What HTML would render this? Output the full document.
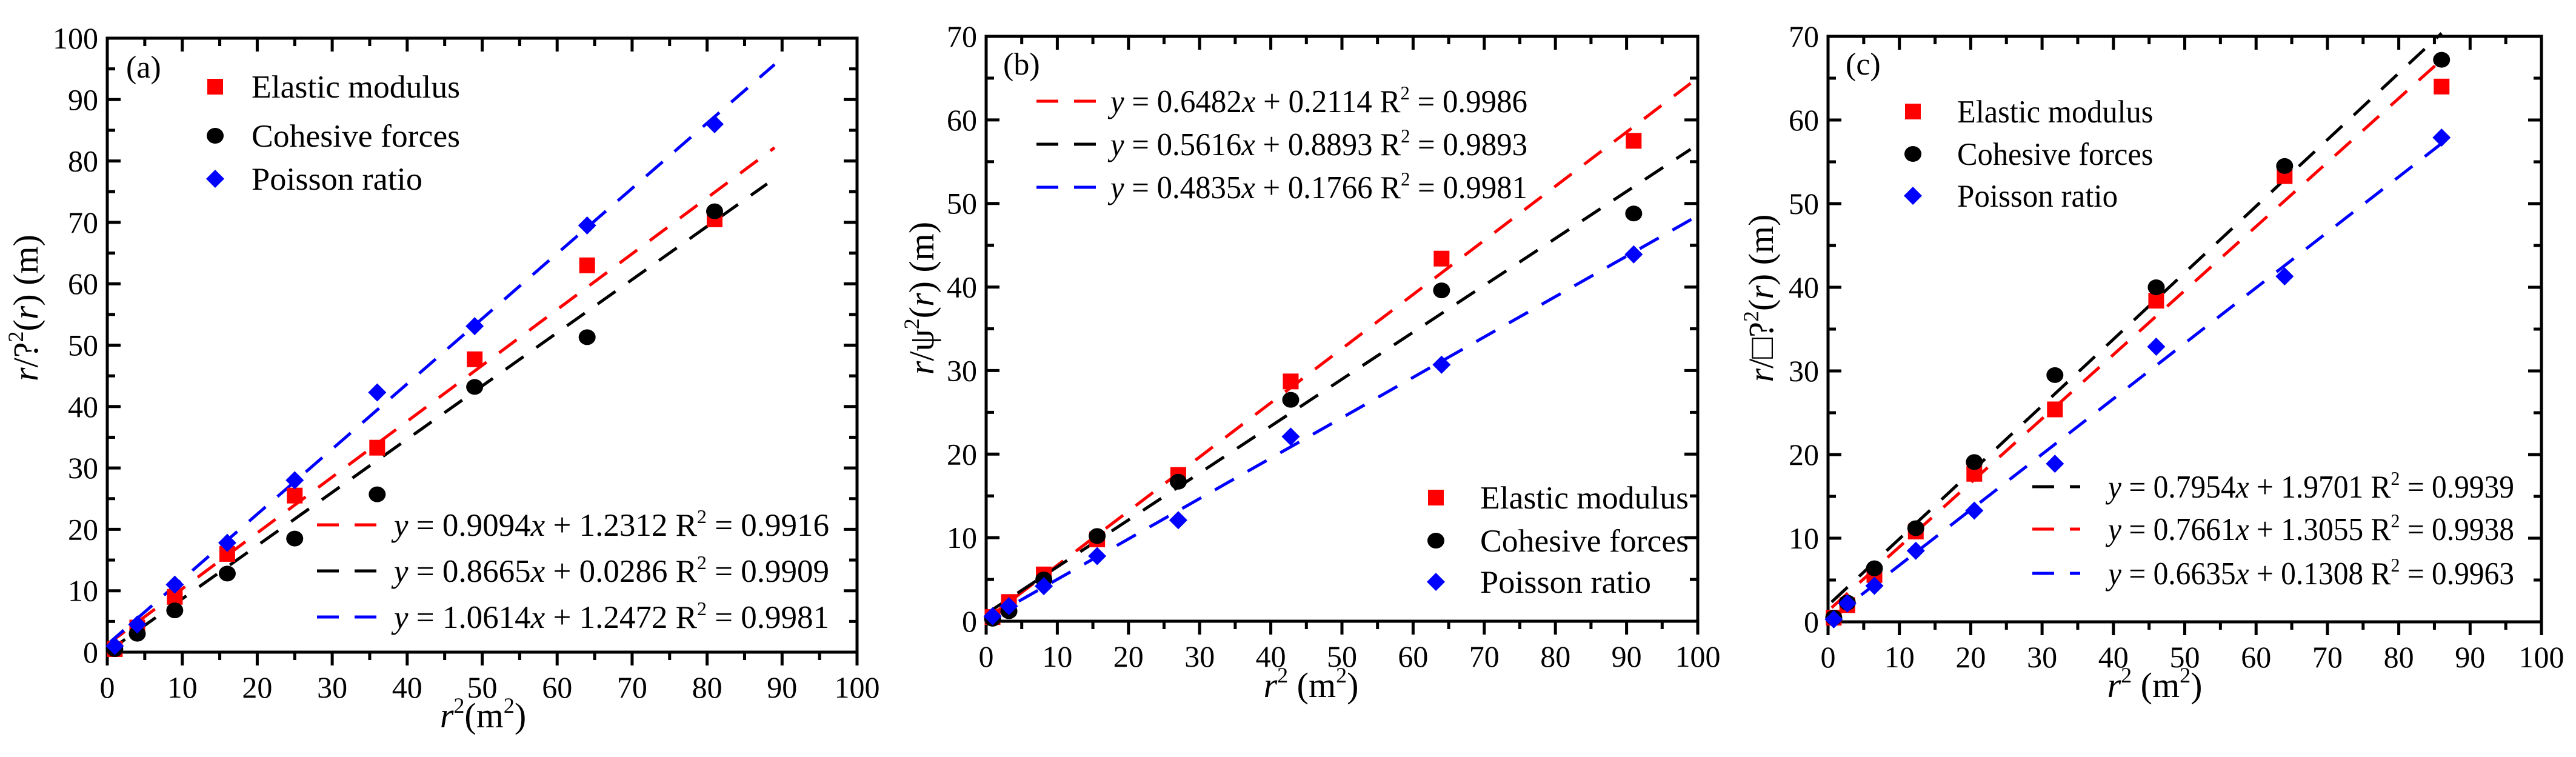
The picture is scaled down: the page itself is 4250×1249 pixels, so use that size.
<!DOCTYPE html>
<html><head><meta charset="utf-8"><style>
html,body{margin:0;padding:0;background:#fff;}
svg, svg text, svg tspan{font-family:"Liberation Serif","Times New Roman",Times,"DejaVu Serif",serif;}
</style></head><body>
<svg id="c" width="4250" height="1244" viewBox="0 0 4250 1244" xmlns="http://www.w3.org/2000/svg"></svg>
<script>
// Panel (a)
const aX = [1,4,9,16,25,36,49,64,81];
const aElastic = [0.5,4,9,16,25.5,33.3,47.7,63,70.5];
const aCohesive = [0.5,3,6.8,12.8,18.5,25.7,43.2,51.3,71.8];
const aPoisson = [1,4.5,11,17.8,28,42.3,53.1,69.5,86];
const aSlopes = [0.9094,0.8665,1.0614];
const aIntercepts = [1.2312,0.0286,1.2472];
const aFitEnd = [89,88,89];
// Panel (b)
const bX = [0.9,3.2,8.1,15.6,27,42.8,64,91];
const bElastic = [0.5,2.3,5.6,9.8,17.5,28.7,43.4,57.5];
const bCohesive = [0.3,1.2,5,10.2,16.7,26.5,39.6,48.8];
const bPoisson = [0.6,1.8,4.2,7.8,12.1,22.1,30.7,43.9];
const bSlopes = [0.6482,0.5616,0.4835];
const bIntercepts = [0.2114,0.8893,0.1766];
const bFitEnd = [99,99,100];
// Panel (c)
const cX = [0.8,2.7,6.5,12.3,20.5,31.8,46,64,86];
const cElastic = [0.5,2,5.6,10.8,17.7,25.4,38.4,53.3,64];
const cCohesive = [0.5,2.3,6.4,11.2,19.1,29.5,40,54.5,67.2];
const cPoisson = [0.3,2.2,4.3,8.5,13.3,18.9,32.9,41.3,57.9];
const cSlopes = [0.7954,0.7661,0.6635];
const cIntercepts = [1.9701,1.3055,0.1308];
const cFitEnd = [86,86,86];
const xTicks = [0,10,20,30,40,50,60,70,80,90,100];
const aYTicks = [0,10,20,30,40,50,60,70,80,90,100];
const bcYTicks = [0,10,20,30,40,50,60,70];

const NS="http://www.w3.org/2000/svg";
const svg=document.getElementById('c');
const FF="'Liberation Serif','Times New Roman',Times,serif";
function mk(tag,attrs,parent){const e=document.createElementNS(NS,tag);for(const k in attrs)e.setAttribute(k,attrs[k]);if(tag==='text')e.style.fontFamily=FF;(parent||svg).appendChild(e);return e;}
const COLORS={red:"#ff0000",black:"#000000",blue:"#0000ff"};

function marker(g,type,cx,cy,col){
  let e;
  if(type==='sq'){e=mk('rect',{x:cx-13,y:cy-13,width:26,height:26,fill:col},g);}
  else if(type==='ci'){e=mk('ellipse',{cx:cx,cy:cy,rx:14,ry:13,fill:col},g);}
  else {e=mk('polygon',{points:`${cx},${cy-15} ${cx+15},${cy} ${cx},${cy+15} ${cx-15},${cy}`,fill:col},g);}
  return e;
}
function eqText(g,x,y,s,i,r2,size,w){
  const t=mk('text',{x:x,y:y,'font-size':size,fill:'#000',textLength:w,lengthAdjust:'spacingAndGlyphs'},g);
  
  
  const sp=(txt,attrs)=>{const e=document.createElementNS(NS,'tspan');for(const k in (attrs||{}))e.setAttribute(k,attrs[k]);e.textContent=txt;t.appendChild(e);return e;};
  sp('y',{'font-style':'italic'});
  sp(' = '+s.toFixed(4));
  sp('x',{'font-style':'italic'});
  sp(' + '+i.toFixed(4)+'  R');
  sp('2',{'font-size':size*0.6,dy:-size*0.4});
  sp(' = '+r2,{dy:size*0.4});
}

function panel(cfg){
  const g=mk('g',{});
  
  
  const {L,R,T,B,ymax}=cfg;
  const sx=v=>L+(v/100)*(R-L);
  const sy=v=>B-(v/ymax)*(B-T);
  const fr=mk('rect',{x:L,y:T,width:R-L,height:B-T,fill:'none',stroke:'#000','stroke-width':5},g);
  
  
  xTicks.forEach((v,k)=>{
    const x=sx(v);
    mk('line',{x1:x,y1:B,x2:x,y2:B+22,stroke:'#000','stroke-width':5},g);
    mk('line',{x1:x,y1:T,x2:x,y2:T+22,stroke:'#000','stroke-width':5},g);
    if(k<xTicks.length-1){const xm=sx(v+5);
      mk('line',{x1:xm,y1:B,x2:xm,y2:B+13,stroke:'#000','stroke-width':5},g);
      mk('line',{x1:xm,y1:T,x2:xm,y2:T+13,stroke:'#000','stroke-width':5},g);}
    const t=mk('text',{x:x,y:B+75,'font-size':50,'text-anchor':'middle'},g);
    
    
    t.textContent=v;
  });
  cfg.yTicks.forEach((v,k)=>{
    const y=sy(v);
    mk('line',{x1:L,y1:y,x2:L+22,y2:y,stroke:'#000','stroke-width':5},g);
    mk('line',{x1:R,y1:y,x2:R-22,y2:y,stroke:'#000','stroke-width':5},g);
    if(k<cfg.yTicks.length-1){const ym=sy(v+5);
      mk('line',{x1:L,y1:ym,x2:L+13,y2:ym,stroke:'#000','stroke-width':5},g);
      mk('line',{x1:R,y1:ym,x2:R-13,y2:ym,stroke:'#000','stroke-width':5},g);}
    const t=mk('text',{x:L-15,y:y+17,'font-size':50,'text-anchor':'end'},g);
    
    
    t.textContent=v;
  });
  cfg.fits.forEach(f=>{
    const x0=cfg.fitStart;
    const l=mk('line',{x1:sx(x0),y1:sy(f.s*x0+f.i),x2:sx(f.end),y2:sy(f.s*f.end+f.i),stroke:COLORS[f.c],'stroke-width':5,'stroke-dasharray':'36 26'},g);
    
    
  });
  cfg.series.forEach(s=>{
    s.y.forEach((v,k)=>{
      const m=marker(g,s.type,sx(cfg.x[k]),sy(v),COLORS[s.c]);
      
      
    });
  });
  const lab=mk('text',{x:cfg.lab[0],y:cfg.lab[1],'font-size':52},g);
  
  
  lab.textContent=cfg.labText;
  const names=['Elastic modulus','Cohesive forces','Poisson ratio'];
  const widths=[344,344,282];
  const types=['sq','ci','di'];const cols=['red','black','blue'];
  cfg.legRows.forEach((y,k)=>{
    const m=marker(g,types[k],cfg.legX,y,COLORS[cols[k]]);
    
    
    const t=mk('text',{x:cfg.legTX,y:y+18,'font-size':53,textLength:widths[k]*cfg.legScale,lengthAdjust:'spacingAndGlyphs'},g);
    
    
    t.textContent=names[k];
  });
  cfg.eqRows.forEach((y,k)=>{
    const f=cfg.eqFits[k];
    const l=mk('line',{x1:cfg.eqL[0],y1:y,x2:cfg.eqL[1],y2:y,stroke:COLORS[f.c],'stroke-width':5,'stroke-dasharray':'36 26'},g);
    
    
    eqText(g,cfg.eqTX,y+18,f.s,f.i,f.r2,53,cfg.eqW);
  });
  const xt=mk('text',{x:cfg.xt[0],y:cfg.xt[1],'font-size':58,'text-anchor':'middle'},g);
  
  
  xt.innerHTML='<tspan font-style="italic">r</tspan><tspan font-size="36" dy="-24">2</tspan><tspan dy="24">'+cfg.xgap+'(m</tspan><tspan font-size="36" dy="-24">2</tspan><tspan dy="24">)</tspan>';
  const yt=mk('text',{x:0,y:0,'font-size':58,'text-anchor':'middle',transform:`translate(${cfg.yt[0]},${cfg.yt[1]}) rotate(-90)`},g);
  
  
  yt.innerHTML='<tspan font-style="italic">r</tspan>/'+cfg.ysym+'<tspan font-size="36" dy="-24">2</tspan><tspan dy="24">(</tspan><tspan font-style="italic">r</tspan>) (m)';
}

panel({name:'panel-a',L:177,R:1414,T:63,B:1076,ymax:100,yTicks:aYTicks,x:aX,fitStart:0,
  fits:[{s:aSlopes[0],i:aIntercepts[0],end:aFitEnd[0],c:'red'},{s:aSlopes[1],i:aIntercepts[1],end:aFitEnd[1],c:'black'},{s:aSlopes[2],i:aIntercepts[2],end:aFitEnd[2],c:'blue'}],
  series:[{key:'elastic',y:aElastic,type:'sq',c:'red'},{key:'cohesive',y:aCohesive,type:'ci',c:'black'},{key:'poisson',y:aPoisson,type:'di',c:'blue'}],
  lab:[208,128],labText:'(a)',legX:355,legTX:415,legRows:[143,224,295],legScale:1,
  eqRows:[866,942,1018],eqL:[523,640],eqTX:650,eqW:718,
  eqFits:[{s:aSlopes[0],i:aIntercepts[0],c:'red',r2:'0.9916'},{s:aSlopes[1],i:aIntercepts[1],c:'black',r2:'0.9909'},{s:aSlopes[2],i:aIntercepts[2],c:'blue',r2:'0.9981'}],
  xt:[797,1200],xgap:'',yt:[62,508],ysym:'?'});
panel({name:'panel-b',L:1627,R:2801,T:60,B:1025,ymax:70,yTicks:bcYTicks,x:bX,fitStart:0,
  fits:[{s:bSlopes[0],i:bIntercepts[0],end:bFitEnd[0],c:'red'},{s:bSlopes[1],i:bIntercepts[1],end:bFitEnd[1],c:'black'},{s:bSlopes[2],i:bIntercepts[2],end:bFitEnd[2],c:'blue'}],
  series:[{key:'elastic',y:bElastic,type:'sq',c:'red'},{key:'cohesive',y:bCohesive,type:'ci',c:'black'},{key:'poisson',y:bPoisson,type:'di',c:'blue'}],
  lab:[1655,123],labText:'(b)',legX:2369,legTX:2442,legRows:[821,892,960],legScale:1,
  eqRows:[167,238,309],eqL:[1710,1820],eqTX:1832,eqW:688,
  eqFits:[{s:bSlopes[0],i:bIntercepts[0],c:'red',r2:'0.9986'},{s:bSlopes[1],i:bIntercepts[1],c:'black',r2:'0.9893'},{s:bSlopes[2],i:bIntercepts[2],c:'blue',r2:'0.9981'}],
  xt:[2163,1150],xgap:' ',yt:[1540,492],ysym:'ψ'});
panel({name:'panel-c',L:3016,R:4193,T:60,B:1026,ymax:70,yTicks:bcYTicks,x:cX,fitStart:0.5,
  fits:[{s:cSlopes[0],i:cIntercepts[0],end:cFitEnd[0],c:'black'},{s:cSlopes[1],i:cIntercepts[1],end:cFitEnd[1],c:'red'},{s:cSlopes[2],i:cIntercepts[2],end:cFitEnd[2],c:'blue'}],
  series:[{key:'elastic',y:cElastic,type:'sq',c:'red'},{key:'cohesive',y:cCohesive,type:'ci',c:'black'},{key:'poisson',y:cPoisson,type:'di',c:'blue'}],
  lab:[3045,123],labText:'(c)',legX:3156,legTX:3229,legRows:[184,254,323],legScale:0.94,
  eqRows:[803,873,946],eqL:[3353,3432],eqTX:3478,eqW:670,
  eqFits:[{s:cSlopes[0],i:cIntercepts[0],c:'black',r2:'0.9939'},{s:cSlopes[1],i:cIntercepts[1],c:'red',r2:'0.9938'},{s:cSlopes[2],i:cIntercepts[2],c:'blue',r2:'0.9963'}],
  xt:[3555,1150],xgap:' ',yt:[2925,492],ysym:'□?'});
</script>
</body></html>
